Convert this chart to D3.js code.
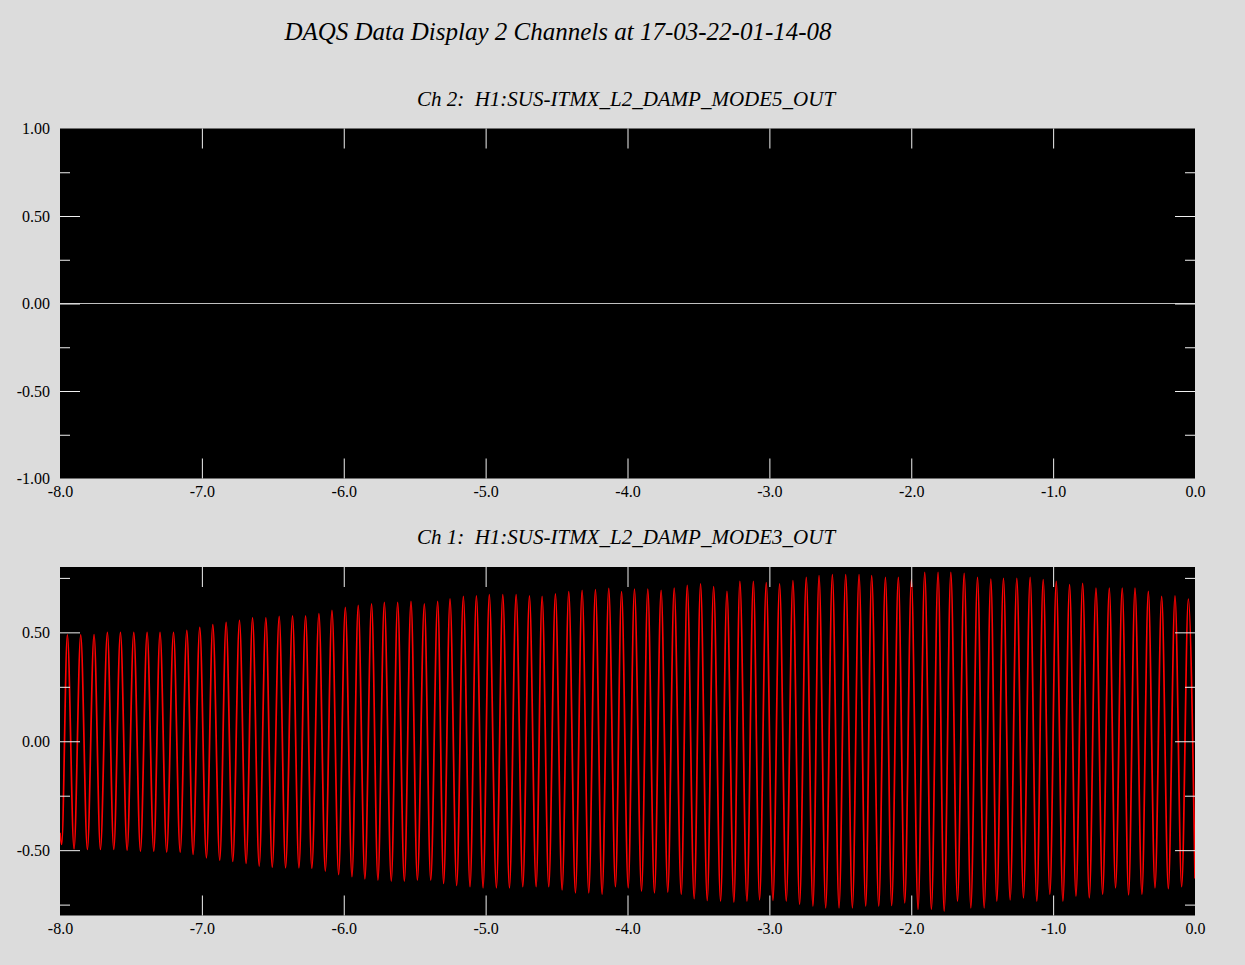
<!DOCTYPE html>
<html>
<head>
<meta charset="utf-8">
<script src="https://cdn.jsdelivr.net/npm/d3@7"></script>
<style>
  html, body { margin: 0; padding: 0; background: #dcdcdc; }
  svg { display: block; }
  .tick text { font-family: "Liberation Serif", "Times New Roman", serif; font-size: 16px; fill: #000; }
  .sub { white-space: pre; }
</style>
</head>
<body>
<svg id="chart" width="1245" height="965"></svg>
<script>
// ---------------- data ----------------
const titleText = "DAQS Data Display 2 Channels at 17-03-22-01-14-08";
const ch2Title = "Ch 2:  H1:SUS-ITMX_L2_DAMP_MODE5_OUT";
const ch1Title = "Ch 1:  H1:SUS-ITMX_L2_DAMP_MODE3_OUT";

const xTickValues = [-8, -7, -6, -5, -4, -3, -2, -1, 0];
const ch2YTicks = [-1.0, -0.5, 0.0, 0.5, 1.0];
const ch2YMinor = [-0.75, -0.25, 0.25, 0.75];
const ch1YTicks = [-0.5, 0.0, 0.5];
const ch1YMinor = [-0.75, -0.25, 0.25, 0.75];

// Ch 2: flat zero signal
const ch2Time = [-8.0, 0.0];
const ch2Value = [0.0, 0.0];

// Ch 1: oscillation, start / end samples plus each peak and trough
const ch1StartEnd = [[-8.0, -0.42], [0.0, -0.63]];

const ch1PeakT = [
  -7.948,-7.854,-7.760,-7.666,-7.574,-7.480,-7.386,-7.295,-7.200,-7.106,-7.015,-6.923,-6.829,-6.735,-6.643,
  -6.549,-6.455,-6.361,-6.269,-6.175,-6.083,-5.989,-5.898,-5.804,-5.714,-5.620,-5.526,-5.432,-5.338,
  -5.251,-5.157,-5.065,-4.974,-4.879,-4.785,-4.691,-4.602,-4.508,-4.414,-4.320,-4.226,-4.132,-4.042,-3.951,
  -3.857,-3.763,-3.671,-3.579,-3.485,-3.393,-3.299,-3.208,-3.113,-3.022,-2.928,-2.834,-2.740,
  -2.650,-2.556,-2.462,-2.368,-2.279,-2.182,-2.091,-1.999,-1.905,-1.811,-1.721,-1.627,-1.533,-1.439,-1.350,
  -1.256,-1.162,-1.070,-0.978,-0.884,-0.792,-0.698,-0.604,-0.513,-0.423,-0.329,-0.235,-0.141,-0.047
];
const ch1PeakV = [
  0.489,0.489,0.490,0.500,0.500,0.500,0.500,0.500,0.500,0.509,0.523,0.535,0.546,0.555,0.566,
  0.566,0.573,0.576,0.576,0.586,0.601,0.615,0.624,0.631,0.638,0.638,0.642,0.631,0.642,
  0.654,0.665,0.668,0.673,0.673,0.673,0.668,0.665,0.677,0.687,0.693,0.696,0.702,0.687,0.699,
  0.699,0.693,0.703,0.716,0.723,0.710,0.688,0.734,0.734,0.728,0.723,0.737,0.752,
  0.760,0.765,0.765,0.765,0.760,0.752,0.752,0.742,0.775,0.775,0.775,0.771,0.752,0.745,0.748,
  0.748,0.752,0.742,0.734,0.719,0.725,0.703,0.703,0.703,0.703,0.688,0.665,0.668,0.653
];
const ch1TroughT = [
  -7.988,-7.901,-7.807,-7.715,-7.621,-7.527,-7.433,-7.339,-7.248,-7.153,-7.062,-6.968,-6.874,-6.782,-6.688,
  -6.596,-6.504,-6.410,-6.316,-6.225,-6.130,-6.036,-5.942,-5.851,-5.759,-5.665,-5.573,-5.481,-5.387,
  -5.296,-5.204,-5.110,-5.018,-4.924,-4.832,-4.738,-4.644,-4.555,-4.461,-4.367,-4.273,-4.179,-4.085,-3.995,
  -3.901,-3.810,-3.716,-3.621,-3.530,-3.438,-3.344,-3.250,-3.158,-3.069,-2.975,-2.881,-2.787,-2.693,
  -2.603,-2.509,-2.415,-2.321,-2.229,-2.138,-2.046,-1.952,-1.858,-1.768,-1.674,-1.580,-1.486,-1.397,
  -1.303,-1.209,-1.115,-1.023,-0.931,-0.839,-0.745,-0.651,-0.560,-0.468,-0.374,-0.282,-0.188,-0.094
];
const ch1TroughV = [
  -0.474,-0.494,-0.497,-0.497,-0.497,-0.500,-0.505,-0.505,-0.509,-0.509,-0.520,-0.535,-0.546,-0.552,-0.561,
  -0.573,-0.578,-0.581,-0.581,-0.583,-0.596,-0.612,-0.622,-0.632,-0.638,-0.642,-0.642,-0.638,-0.638,
  -0.653,-0.662,-0.668,-0.673,-0.673,-0.673,-0.668,-0.668,-0.668,-0.683,-0.696,-0.696,-0.703,-0.668,-0.673,
  -0.688,-0.696,-0.693,-0.703,-0.723,-0.731,-0.734,-0.739,-0.734,-0.728,-0.731,-0.734,-0.749,-0.757,
  -0.765,-0.765,-0.765,-0.757,-0.757,-0.754,-0.742,-0.772,-0.772,-0.780,-0.734,-0.765,-0.765,-0.734,
  -0.728,-0.719,-0.734,-0.703,-0.734,-0.711,-0.719,-0.703,-0.673,-0.705,-0.703,-0.673,-0.677,-0.668
];

// ---------------- drawing ----------------
const svg = d3.select("#chart");
const serif = '"Liberation Serif", "Times New Roman", serif';
const plotLeft = 60, plotRight = 1195;

svg.append("rect").attr("width", 1245).attr("height", 965).attr("fill", "#dcdcdc");

svg.append("text")
  .attr("x", 558).attr("y", 40)
  .attr("text-anchor", "middle")
  .attr("font-family", serif).attr("font-style", "italic").attr("font-size", 25)
  .attr("fill", "#000")
  .text(titleText);

function panel(cfg) {
  const x = d3.scaleLinear().domain([-8, 0]).range([plotLeft, plotRight]);
  const y = d3.scaleLinear().domain(cfg.yDomain).range([cfg.bottom, cfg.top]);

  svg.append("text")
    .attr("class", "sub")
    .attr("x", 626).attr("y", cfg.titleY)
    .attr("text-anchor", "middle")
    .attr("font-family", serif).attr("font-style", "italic").attr("font-size", 21)
    .attr("fill", "#000")
    .text(cfg.title);

  svg.append("rect")
    .attr("x", plotLeft).attr("y", cfg.top)
    .attr("width", plotRight - plotLeft).attr("height", cfg.bottom - cfg.top)
    .attr("fill", "#000");

  const g = svg.append("g");
  const clipId = "clip" + cfg.id;
  svg.append("clipPath").attr("id", clipId).append("rect")
    .attr("x", plotLeft).attr("y", cfg.top)
    .attr("width", plotRight - plotLeft).attr("height", cfg.bottom - cfg.top);

  // data line
  const line = d3.line().x(d => x(d[0])).y(d => y(d[1])).curve(cfg.curve);
  g.append("path")
    .datum(cfg.data)
    .attr("clip-path", `url(#${clipId})`)
    .attr("fill", "none")
    .attr("stroke", cfg.color)
    .attr("stroke-width", cfg.width)
    .attr("d", line);

  const tickStyle = sel => {
    sel.select(".domain").remove();
    sel.selectAll(".tick line").attr("stroke", "#f0f0f0").attr("stroke-width", 1);
    sel.selectAll(".tick text").remove();
  };
  const inner = xTickValues.filter(v => v > -8 && v < 0);
  // inner x ticks at top and bottom
  svg.append("g").attr("transform", `translate(0,${cfg.top})`)
    .call(d3.axisBottom(x).tickValues(inner).tickSize(20)).call(tickStyle);
  svg.append("g").attr("transform", `translate(0,${cfg.bottom})`)
    .call(d3.axisTop(x).tickValues(inner).tickSize(20)).call(tickStyle);
  // inner y ticks left and right
  const innerMajor = cfg.yTicks.filter(v => v > cfg.yDomain[0] && v < cfg.yDomain[1]);
  svg.append("g").attr("transform", `translate(${plotLeft},0)`)
    .call(d3.axisRight(y).tickValues(innerMajor).tickSize(20)).call(tickStyle);
  svg.append("g").attr("transform", `translate(${plotLeft},0)`)
    .call(d3.axisRight(y).tickValues(cfg.yMinor).tickSize(10)).call(tickStyle);
  svg.append("g").attr("transform", `translate(${plotRight},0)`)
    .call(d3.axisLeft(y).tickValues(innerMajor).tickSize(20)).call(tickStyle);
  svg.append("g").attr("transform", `translate(${plotRight},0)`)
    .call(d3.axisLeft(y).tickValues(cfg.yMinor).tickSize(10)).call(tickStyle);

  // labels
  const xl = svg.append("g").attr("transform", `translate(0,${cfg.bottom})`)
    .call(d3.axisBottom(x).tickValues(xTickValues).tickSize(0).tickPadding(7).tickFormat(d => d.toFixed(1)));
  xl.select(".domain").remove();
  const yl = svg.append("g").attr("transform", `translate(${plotLeft},0)`)
    .call(d3.axisLeft(y).tickValues(cfg.yTicks).tickSize(0).tickPadding(10).tickFormat(d => d.toFixed(2)));
  yl.select(".domain").remove();
}

panel({
  id: 2, title: ch2Title, titleY: 106, top: 128.5, bottom: 478.5, yDomain: [-1, 1],
  yTicks: ch2YTicks, yMinor: ch2YMinor,
  data: ch2Time.map((t, i) => [t, ch2Value[i]]),
  curve: d3.curveLinear, color: "#c0c0c0", width: 1
});

const ch1Data = ch1StartEnd
  .concat(ch1PeakT.map((t, i) => [t, ch1PeakV[i]]))
  .concat(ch1TroughT.map((t, i) => [t, ch1TroughV[i]]))
  .sort((a, b) => a[0] - b[0]);

panel({
  id: 1, title: ch1Title, titleY: 544, top: 567, bottom: 915.5, yDomain: [-0.8, 0.8],
  yTicks: ch1YTicks, yMinor: ch1YMinor,
  data: ch1Data,
  curve: d3.curveMonotoneX, color: "#ff0000", width: 1.7
});
</script>
</body>
</html>
